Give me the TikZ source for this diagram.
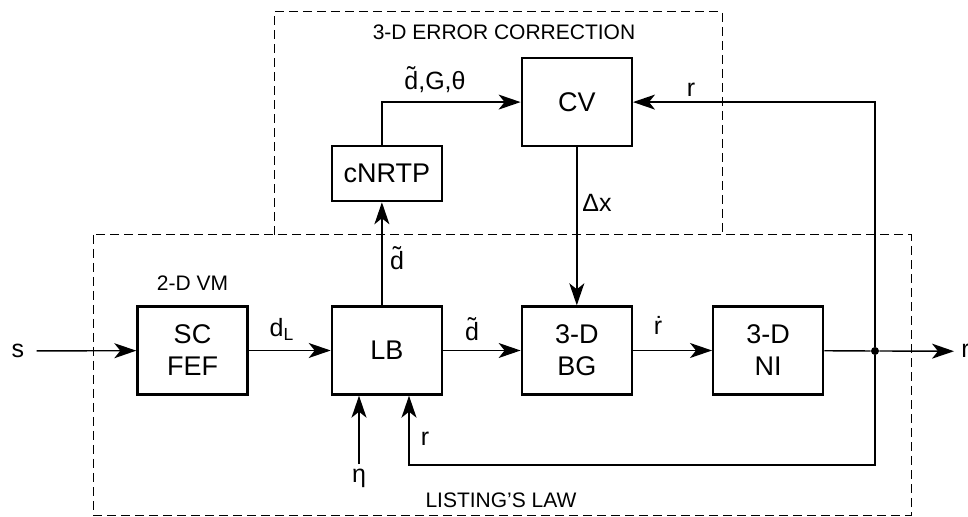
\documentclass[tikz,border=0pt]{standalone}
\usepackage{fontspec}
\setmainfont{Liberation Sans}
\usepackage{tikz}
\usetikzlibrary{positioning,arrows.meta}

\newcommand{\dtilde}{\ooalign{d\cr\hidewidth\raisebox{.22em}{\char"02DC}\hidewidth\cr}}

\begin{document}
\begin{tikzpicture}
    [ x = .5pt, y = -.5pt
    , block/.style =
      { draw, line width=1.2pt, minimum width=55pt, minimum height=44pt
      , align=center, font=\fontsize{13.5}{16}\selectfont }
    , signal/.style =
      { line width=.7pt, -{Stealth[length=11pt,width=7.5pt,inset=3pt]} }
    , wire/.style =
      { line width=.7pt }
    , region/.style =
      { line width=.5pt, dash pattern=on 4.5pt off 2.5pt }
    , tag/.style =
      { font=\fontsize{10.5}{12}\selectfont }
    , sig/.style =
      { font=\fontsize{12.5}{14}\selectfont, inner sep=2pt }
    , dot/.style =
      { circle, fill, inner sep=0pt, minimum size=4pt }
    ]
    \useasboundingbox (0,0) rectangle (968,517);

    % regions
    \draw [region] (93,235) rectangle (911,515);
    \draw [region] (274,235) |- (722,12) -- (722,235);
    \node [tag] (eclabel) at (504,32) {3-D ERROR CORRECTION};
    \node [tag] (lllabel) at (501,500) {LISTING'S LAW};

    % blocks
    \node [block] (fef) at (192.5,350.5) {SC\\FEF};
    \node [block] (lb) [right=41pt of fef] {LB};
    \node [block] (bg) [right=38.75pt of lb] {3-D\\BG};
    \node [block] (ni) [right=39.5pt of bg] {3-D\\NI};
    \node [block] (cv) [above=79pt of bg] {CV};
    \node [block, minimum height=27.5pt] (cnrtp) [above=51.5pt of lb] {cNRTP};
    \node [tag] (vmlabel) [above=4pt of fef] {2-D VM};

    \node [dot] (jn) at (875,351) {};
    \coordinate (fbk) at (409,465);
    \coordinate (tap) at ([xshift=-2.5pt]lb.north);

    % signal labels
    \node [sig] (s) at (18,351) {s};
    \node [sig, anchor=base] (eta) at (359,482) {η};
    \node [sig, anchor=base west, inner sep=0pt] (rout) at (961,358) {r};
    \node [sig, anchor=base] (dl) at (282,337) {d\textsubscript{L}};
    \node [sig, anchor=base] (dlb) at (472,341) {\dtilde};
    \node [sig, anchor=base] (dup) at (397,270) {\dtilde};
    \node [sig, anchor=base] (rdot) at (658,335) {\.{r}};
    \node [sig, anchor=base] (dx) at (597,212) {Δx};
    \node [sig, anchor=base] (rcv) at (691,97) {r};
    \node [sig, anchor=base] (dgt) at (435,90) {\dtilde,G,θ};
    \node [sig, anchor=base] (rfb) at (425,445) {r};

    % connections
    \draw [signal, shorten <=4pt] (s) -- (fef);
    \draw [signal] (fef) -- (lb);
    \draw [signal] (lb) -- (bg);
    \draw [signal] (bg) -- (ni);
    \draw [wire] (ni) -- (jn);
    \draw [signal, shorten >=3.5pt] (jn) -- (rout);
    \draw [signal] (tap) -- (tap |- cnrtp.south);
    \draw [signal] (tap |- cnrtp.north) |- (cv.west);
    \draw [signal] (cv) -- (bg);
    \draw [signal] (jn) |- (cv.east);
    \draw [signal] (jn) |- (fbk) -- (fbk |- lb.south);
    \draw [signal] (eta) -- (eta |- lb.south);
\end{tikzpicture}
\end{document}
